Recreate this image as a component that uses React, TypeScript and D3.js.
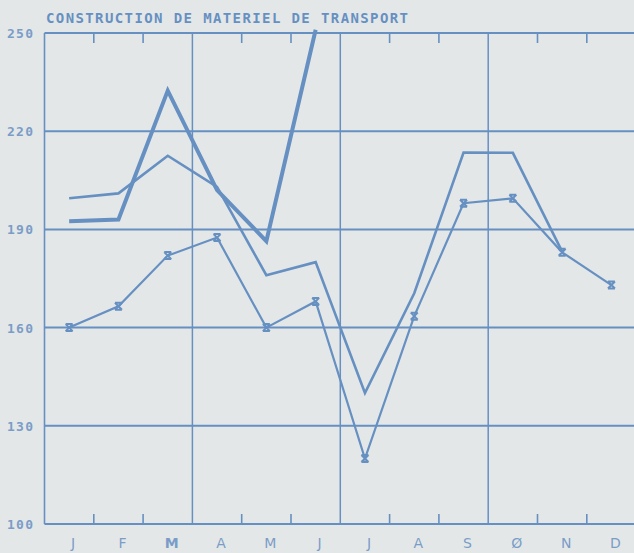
import React from "react";
import * as d3 from "d3";

const months = ["J", "F", "M", "A", "M", "J", "J", "A", "S", "Ø", "N", "D"];
const yTicks = [100, 130, 160, 190, 220, 250];
const title = "CONSTRUCTION DE MATERIEL DE TRANSPORT";

// thick line, January to June only
const seriesThick = [192.5, 193, 232.4, 202, 186.4, 251];
// medium line
const seriesMid = [199.5, 201, 212.5, 203, 176, 180, 140, 170.5, 213.5, 213.4, 183.2];
// thin line with markers
const seriesMark = [160, 166.5, 182, 187.5, 160, 168, 120, 163.5, 198, 199.5, 183, 173];

const W = 634;
const H = 553;
const INK = "#6690c2";
const LABEL = "#7a9dc8";
const PAPER = "#e4e7e7";

export default function App() {
  const x = d3
    .scaleBand<number>()
    .domain(d3.range(12))
    .range([44.5, 44.5 + 12 * 49.3])
    .paddingInner(0)
    .paddingOuter(0);
  const y = d3.scaleLinear().domain([100, 250]).range([524, 33]);
  const cx = (i: number) => (x(i) as number) + x.bandwidth() / 2;
  const line = d3
    .line<number>()
    .x((_, i) => cx(i))
    .y((d) => y(d));

  const left = x.range()[0];
  const right = x.range()[1];
  const boundaries = d3.range(1, 12);

  return (
    <svg
      width={W}
      height={H}
      style={{ position: "absolute", left: 0, top: 0, background: PAPER }}
    >
      <rect x={0} y={0} width={W} height={H} fill={PAPER} />
      <text
        x={46}
        y={23}
        textLength={362}
        lengthAdjust="spacing"
        fontFamily="DejaVu Sans Mono"
        fontWeight="bold"
        fontSize={14}
        fill={INK}
      >
        {title}
      </text>

      {/* horizontal grid & frame */}
      {yTicks.map((t) => (
        <line
          key={"h" + t}
          x1={left}
          x2={right}
          y1={y(t)}
          y2={y(t)}
          stroke={INK}
          strokeWidth={2}
        />
      ))}
      <line x1={left} x2={left} y1={y(250)} y2={y(100)} stroke={INK} strokeWidth={1.6} />

      {/* vertical quarter lines & ticks */}
      {boundaries.map((b) => {
        const xb = x(b) as number;
        if (b % 3 === 0) {
          return (
            <line key={"v" + b} x1={xb} x2={xb} y1={y(250)} y2={y(100)} stroke={INK} strokeWidth={1.5} />
          );
        }
        return (
          <g key={"t" + b}>
            <line x1={xb} x2={xb} y1={y(250)} y2={y(250) + 10} stroke={INK} strokeWidth={1.6} />
            <line x1={xb} x2={xb} y1={y(100)} y2={y(100) - 10} stroke={INK} strokeWidth={1.6} />
          </g>
        );
      })}

      {/* y labels */}
      {yTicks.map((t) => (
        <text
          key={"yl" + t}
          x={7}
          y={y(t) + 5}
          textLength={26}
          lengthAdjust="spacing"
          fontFamily="DejaVu Sans Mono"
          fontWeight="bold"
          fontSize={13}
          fill={LABEL}
        >
          {t}
        </text>
      ))}

      {/* month labels */}
      {months.map((m, i) => (
        <text
          key={"m" + i}
          x={cx(i) + 4}
          y={548}
          textAnchor="middle"
          fontFamily="DejaVu Sans"
          fontWeight={i === 2 ? "bold" : "normal"}
          fontSize={14}
          fill={LABEL}
        >
          {m}
        </text>
      ))}

      {/* series */}
      <path d={line(seriesThick) || ""} fill="none" stroke={INK} strokeWidth={4} strokeLinejoin="miter" />
      <path d={line(seriesMid) || ""} fill="none" stroke={INK} strokeWidth={2.6} strokeLinejoin="miter" />
      <path d={line(seriesMark) || ""} fill="none" stroke={INK} strokeWidth={2.2} strokeLinejoin="miter" />
      {seriesMark.map((v, i) => {
        const px = cx(i);
        const py = y(v);
        const s = 3.5;
        return (
          <path
            key={"mk" + i}
            d={`M${px - s},${py - s}L${px + s},${py + s}M${px + s},${py - s}L${px - s},${py + s}M${px - s},${py - s}L${px + s},${py - s}M${px - s},${py + s}L${px + s},${py + s}`}
            stroke={INK}
            strokeWidth={2}
            fill="none"
          />
        );
      })}
    </svg>
  );
}
